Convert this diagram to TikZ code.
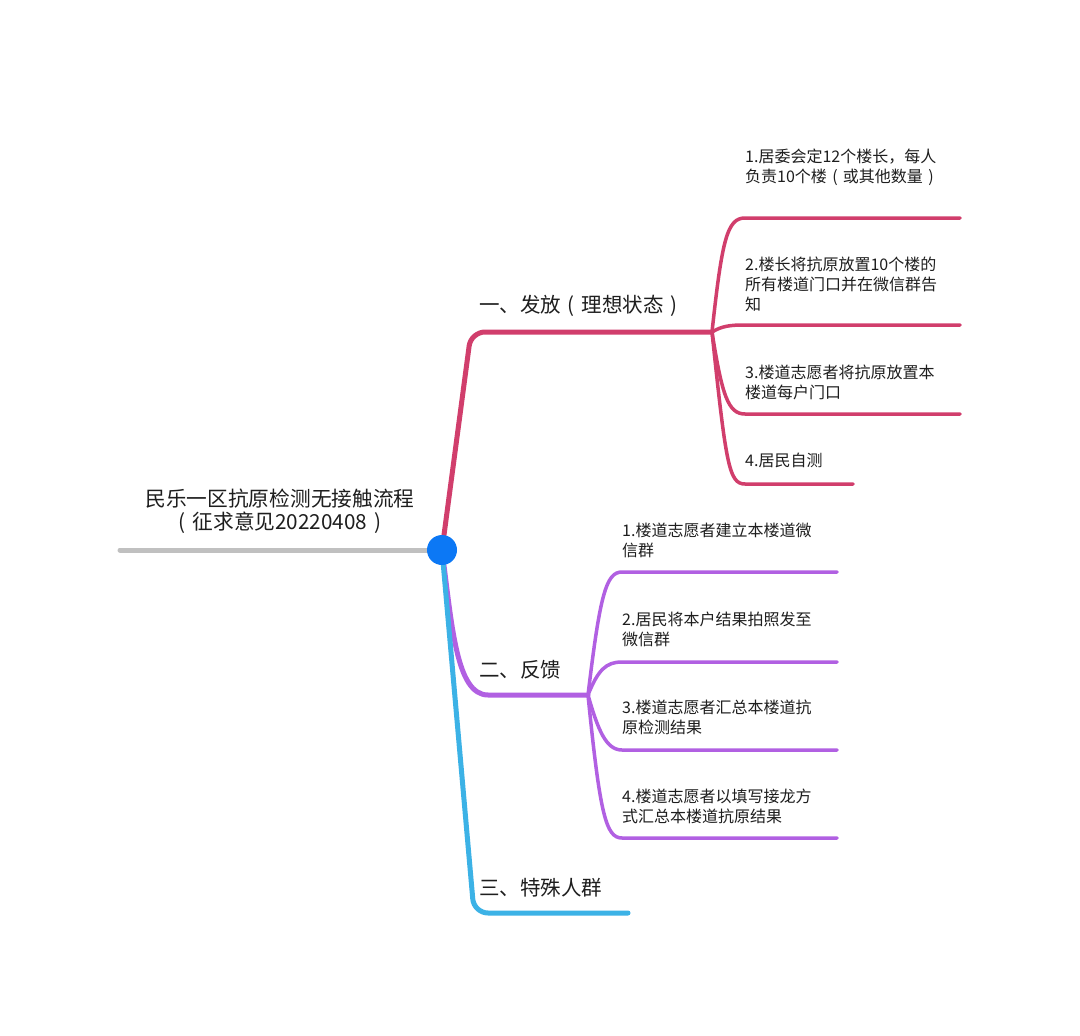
\documentclass[tikz,border=0pt]{standalone}
\usepackage{fontspec}
\setmainfont{Noto Sans CJK SC}
\newcommand\myLP{\makebox[1em][c]{(}}
\newcommand\myRP{\makebox[1em][c]{)}}
\definecolor{cRed}{RGB}{209,62,108}
\definecolor{cPurple}{RGB}{177,96,226}
\definecolor{cCyan}{RGB}{60,178,230}
\definecolor{cBlue}{RGB}{12,120,245}
\definecolor{cGrey}{RGB}{192,192,192}
\definecolor{cText}{RGB}{30,30,30}
\begin{document}
\begin{tikzpicture}[x=1pt,y=-1pt,
  mainline/.style={line width=5pt,line cap=round,line join=round},
  subline/.style={line width=3.5pt,line cap=round},
  roottext/.style={inner sep=0pt,align=center,text=cText,font=\fontsize{20.7}{23.5}\selectfont},
  lbltext/.style={inner sep=0pt,anchor=west,text=cText,font=\fontsize{20.5}{23}\selectfont},
  leaftext/.style={inner sep=0pt,anchor=west,align=left,text=cText,font=\fontsize{16}{20}\selectfont}]
\useasboundingbox (0,0) rectangle (1080,1036);
\fill[white] (0,0) rectangle (1080,1036);

% coordinates
\coordinate (root) at (442,550);
\coordinate (rootL) at (120,550);
\coordinate (k1) at (471,332);
\coordinate (f1) at (712,332);
\coordinate (k2) at (470,695);
\coordinate (f2) at (588,695);
\coordinate (k3) at (474,913);
\coordinate (e3) at (628,913);

% branch 1
\draw[mainline,cRed,rounded corners=14pt] (root) -- (k1) -- (f1);
\coordinate (a1) at (745,218); \coordinate (b1) at (960,218);
\coordinate (a2) at (745,325); \coordinate (b2) at (960,325);
\coordinate (a3) at (745,414); \coordinate (b3) at (960,414);
\coordinate (a4) at (745,484); \coordinate (b4) at (853,484);
\draw[subline,cRed] (f1) .. controls (722,240) and (727,218) .. (a1) -- (b1);
\draw[subline,cRed] (f1) .. controls (722,326) and (730,325) .. (a2) -- (b2);
\draw[subline,cRed] (f1) .. controls (722,395) and (728,414) .. (a3) -- (b3);
\draw[subline,cRed] (f1) .. controls (726,465) and (729,484) .. (a4) -- (b4);

% branch 2
\draw[mainline,cPurple] (root) .. controls (452,625) and (456,695) .. (488,695) -- (f2);
\coordinate (c1) at (622,572); \coordinate (d1) at (837,572);
\coordinate (c2) at (622,662); \coordinate (d2) at (837,662);
\coordinate (c3) at (622,750); \coordinate (d3) at (837,750);
\coordinate (c4) at (622,838); \coordinate (d4) at (837,838);
\draw[subline,cPurple] (f2) .. controls (600,595) and (606,572) .. (c1) -- (d1);
\draw[subline,cPurple] (f2) .. controls (598,670) and (606,662) .. (c2) -- (d2);
\draw[subline,cPurple] (f2) .. controls (598,730) and (606,750) .. (c3) -- (d3);
\draw[subline,cPurple] (f2) .. controls (600,815) and (606,838) .. (c4) -- (d4);

% branch 3
\draw[mainline,cCyan,rounded corners=14pt] (root) -- (k3) -- (e3);

% root line and dot
\draw[line width=5pt,cGrey,line cap=round] (rootL) -- (root);
\fill[cBlue] (root) circle (15pt);
\node[roottext] (rootlbl) at (280,511) {民乐一区抗原检测无接触流程\\\myLP 征求意见20220408\myRP};

% labels
\node[lbltext] (l1) at (479,306) {一、发放\myLP 理想状态\myRP};
\node[lbltext] (l2) at (479,670) {二、反馈};
\node[lbltext] (l3) at (479,888) {三、特殊人群};

% leaves branch 1
\node[leaftext] (t11) at (745,167) {1.居委会定12个楼长，每人\\负责10个楼\myLP 或其他数量\myRP};
\node[leaftext] (t12) at (745,284) {2.楼长将抗原放置10个楼的\\所有楼道门口并在微信群告\\知};
\node[leaftext] (t13) at (745,382) {3.楼道志愿者将抗原放置本\\楼道每户门口};
\node[leaftext] (t14) at (745,460) {4.居民自测};

% leaves branch 2
\node[leaftext] (t21) at (622,540) {1.楼道志愿者建立本楼道微\\信群};
\node[leaftext] (t22) at (622,629) {2.居民将本户结果拍照发至\\微信群};
\node[leaftext] (t23) at (622,717) {3.楼道志愿者汇总本楼道抗\\原检测结果};
\node[leaftext] (t24) at (622,806) {4.楼道志愿者以填写接龙方\\式汇总本楼道抗原结果};
\end{tikzpicture}
\end{document}
